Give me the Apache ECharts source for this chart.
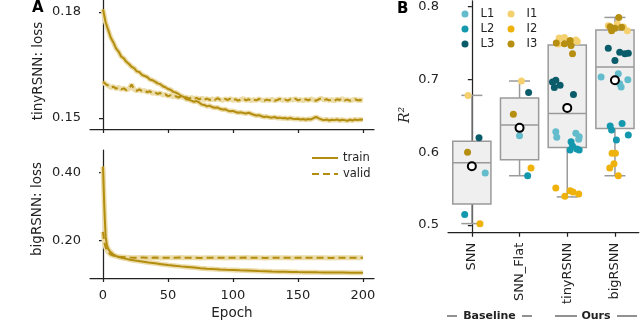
<!DOCTYPE html>
<html lang="en">
<head>
<meta charset="UTF-8">
<title>RSNN loss / R2</title>
<style>
    html, body { margin: 0; padding: 0; background: #fff; }
    #main { width: 640px; height: 322px; }
</style>
<script src="https://cdn.jsdelivr.net/npm/echarts@6/dist/echarts.min.js"></script>
</head>
<body>
<div id="main"></div>
<script>
    // ---------- panel A : loss curves ----------
    var epochsTiny = [0,2,4,6,8,10,12,14,16,18, 20,22,24,26,28,30,32,34,36,38,
        40,42,44,46,48,50,52,54,56,58, 60,62,64,66,68,70,72,74,76,78,
        80,82,84,86,88,90,92,94,96,98, 100,102,104,106,108,110,112,114,116,118,
        120,122,124,126,128,130,132,134,136,138, 140,142,144,146,148,150,152,154,156,158,
        160,162,164,166,168,170,172,174,176,178, 180,182,184,186,188,190,192,194,196,198, 200];
    var tinyTrain = [
        0.1808,0.1771,0.1749,0.1727,0.1714,0.1697,0.1688,0.1674,0.1669,0.1659,
        0.1653,0.1645,0.1641,0.1632,0.1630,0.1622,0.1619,0.1616,0.1609,0.1607,
        0.1603,0.1598,0.1596,0.1590,0.1587,0.1582,0.1580,0.1574,0.1572,0.1568,
        0.1563,0.1560,0.1553,0.1552,0.1549,0.1546,0.1548,0.1544,0.1538,0.1537,
        0.1533,0.1535,0.1531,0.1529,0.1530,0.1526,0.1524,0.1525,0.1521,0.1519,
        0.1520,0.1517,0.1515,0.1516,0.1514,0.1513,0.1515,0.1512,0.1509,0.1507,
        0.1508,0.1505,0.1503,0.1504,0.1502,0.1501,0.1503,0.1500,0.1501,0.1499,
        0.1500,0.1498,0.1500,0.1498,0.1497,0.1498,0.1496,0.1497,0.1495,0.1497,
        0.1496,0.1500,0.1503,0.1499,0.1496,0.1494,0.1496,0.1493,0.1495,0.1494,
        0.1496,0.1493,0.1495,0.1494,0.1492,0.1495,0.1493,0.1496,0.1494,0.1496,
        0.1495];
    var tinyValid = [
        0.1603,0.1596,0.1592,0.1586,0.1589,0.1583,0.1587,0.1581,0.1584,0.1579,
        0.1583,0.1595,0.1580,0.1577,0.1581,0.1576,0.1578,0.1573,0.1576,0.1570,
        0.1572,0.1568,0.1571,0.1565,0.1567,0.1562,0.1564,0.1560,0.1562,0.1558,
        0.1561,0.1557,0.1559,0.1555,0.1558,0.1554,0.1557,0.1553,0.1556,0.1552,
        0.1555,0.1551,0.1554,0.1551,0.1556,0.1552,0.1550,0.1554,0.1551,0.1555,
        0.1550,0.1553,0.1549,0.1552,0.1555,0.1550,0.1553,0.1549,0.1552,0.1550,
        0.1554,0.1551,0.1549,0.1552,0.1550,0.1553,0.1549,0.1551,0.1554,0.1550,
        0.1552,0.1549,0.1553,0.1551,0.1555,0.1550,0.1552,0.1549,0.1553,0.1550,
        0.1554,0.1551,0.1549,0.1553,0.1556,0.1551,0.1553,0.1550,0.1552,0.1549,
        0.1553,0.1551,0.1555,0.1550,0.1552,0.1549,0.1551,0.1553,0.1550,0.1551,
        0.1550];

    var epochsBig = [0,1,2,3,4,5,6,8,10,12,15,18,21,25,30,35,40,45,50,55,60,65,70,75,80,
        85,90,95,100,105,110,115,120,125,130,135,140,145,150,155,160,165,170,175,180,185,190,195,200];
    var bigTrain = [0.418,0.300,0.212,0.186,0.176,0.170,0.166,0.159,0.155,0.152,
        0.149,0.1465,0.144,0.1415,0.139,0.136,0.1335,0.131,0.1285,0.1265,
        0.1245,0.1228,0.121,0.1192,0.1178,0.1165,0.1153,0.1144,0.1136,0.1128,
        0.1121,0.1114,0.1107,0.1101,0.1095,0.1090,0.1086,0.1082,0.1078,0.1075,
        0.1072,0.1069,0.1067,0.1065,0.1063,0.1062,0.1061,0.1060,0.1059];
    var bigValid = [0.226,0.196,0.181,0.172,0.166,0.162,0.159,0.156,0.1545,0.1530,
        0.1522,0.1512,0.1505,0.1498,0.1506,0.1497,0.1503,0.1494,0.1501,0.1496,
        0.1504,0.1495,0.1500,0.1493,0.1502,0.1497,0.1499,0.1494,0.1501,0.1496,
        0.1503,0.1495,0.1499,0.1493,0.1500,0.1497,0.1502,0.1494,0.1499,0.1496,
        0.1501,0.1495,0.1498,0.1493,0.1500,0.1496,0.1499,0.1495,0.1497];

    var epochTicks = [0, 50, 100, 150, 200];
    var tinyTicks = [0.15, 0.18];
    var bigTicks = [0.20, 0.40];

    // ---------- panel B : R^2 per model ----------
    var models = ['SNN', 'SNN_Flat', 'tinyRSNN', 'bigRSNN'];
    var r2Ticks = [0.5, 0.6, 0.7, 0.8];
    // [min, q1, median, q3, max]
    var boxStats = [
        [0.502, 0.529, 0.5855, 0.615, 0.678],
        [0.5677, 0.5895, 0.6375, 0.6745, 0.6977],
        [0.5386, 0.6065, 0.6532, 0.7473, 0.7555],
        [0.5677, 0.6325, 0.7168, 0.7678, 0.785]
    ];
    var means = [0.5808, 0.6334, 0.6608, 0.6988];
    // points: [model index + jitter, R2]
    var ptsL1 = [[0.28,0.5714],[1.00,0.6227],[1.76,0.628],[1.78,0.6205],[2.18,0.626],[2.25,0.6213],[2.24,0.6177],
        [2.71,0.7031],[3.07,0.7078],[3.27,0.6996],[3.10,0.6941],[3.13,0.6895]];
    var ptsL2 = [[-0.15,0.5145],[1.17,0.5677],[2.08,0.6145],[2.11,0.6086],[2.06,0.603],[2.20,0.6045],[2.25,0.603],
        [2.90,0.6359],[2.93,0.6304],[3.15,0.6395],[3.28,0.6236],[3.03,0.6168]];
    var ptsL3 = [[0.15,0.620],[1.19,0.6819],[1.69,0.6963],[1.76,0.6986],[1.73,0.6887],[1.85,0.6918],[2.13,0.6791],
        [2.86,0.7427],[3.10,0.7373],[3.21,0.735],[3.28,0.7359],[3.00,0.7259]];
    var ptsI1 = [[-0.08,0.678],[1.04,0.6977],[1.83,0.7568],[1.94,0.7576],[2.18,0.754],[2.21,0.752],[1.81,0.7486],
        [2.86,0.7737],[3.05,0.776],[3.26,0.7668],[2.95,0.7700],[3.18,0.7720]];
    var ptsI2 = [[0.17,0.5018],[1.24,0.5782],[1.76,0.5509],[1.95,0.5394],[2.06,0.5472],[2.12,0.5455],[2.24,0.5427],
        [2.94,0.5986],[3.01,0.5986],[2.98,0.584],[2.89,0.5782],[3.07,0.5677]];
    var ptsI3 = [[-0.09,0.600],[0.87,0.6522],[1.77,0.750],[1.94,0.749],[2.06,0.7532],[2.08,0.7464],[2.11,0.735],
        [3.08,0.785],[2.90,0.7723],[2.93,0.7668],[3.14,0.7714],[3.00,0.7700]];

    var gold = '#b38d0f';
    var band = '#ecdcaa';
    var ink = '#222';
    var font = 'DejaVu Sans';

    function zip(xs, ys) {
        return xs.map(function (x, i) { return [x, ys[i]]; });
    }

    function valueAxis(grid, min, max, ticks, fmt, showLabel, margin) {
        return {
            type: 'value', gridIndex: grid, min: min, max: max,
            axisLine: {show: true, lineStyle: {color: ink, width: 1.25}},
            axisTick: {show: true, length: 4, lineStyle: {color: ink, width: 1.25}, customValues: ticks},
            axisLabel: {show: showLabel, customValues: ticks, formatter: fmt, color: ink,
                fontFamily: font, fontSize: 13, margin: margin},
            splitLine: {show: false}
        };
    }

    function lineSeries(name, x, y, data, dashed, width, color, z) {
        return {
            type: 'line', name: name, xAxisIndex: x, yAxisIndex: y,
            data: data, symbol: 'none', silent: true, z: z,
            lineStyle: {color: color, width: width, type: dashed ? [7, 4] : 'solid'},
            itemStyle: {color: color}
        };
    }

    function renderBox(params, api) {
        var i = api.value(0);
        var unit = api.size([1, 0])[0];
        var half = unit * 0.4, cap = unit * 0.22;
        var pMin = api.coord([i, api.value(1)]);
        var pQ1 = api.coord([i, api.value(2)]);
        var pMed = api.coord([i, api.value(3)]);
        var pQ3 = api.coord([i, api.value(4)]);
        var pMax = api.coord([i, api.value(5)]);
        var cx = pMed[0];
        var st = {stroke: '#9a9a9a', lineWidth: 1.5};
        return {
            type: 'group',
            children: [
                {type: 'line', shape: {x1: cx, y1: pMin[1], x2: cx, y2: pQ1[1]}, style: st},
                {type: 'line', shape: {x1: cx, y1: pQ3[1], x2: cx, y2: pMax[1]}, style: st},
                {type: 'line', shape: {x1: cx - cap, y1: pMin[1], x2: cx + cap, y2: pMin[1]}, style: st},
                {type: 'line', shape: {x1: cx - cap, y1: pMax[1], x2: cx + cap, y2: pMax[1]}, style: st},
                {type: 'rect', shape: {x: cx - half, y: pQ3[1], width: 2 * half, height: pQ1[1] - pQ3[1]},
                    style: {fill: '#efefef', stroke: '#9a9a9a', lineWidth: 1.5}},
                {type: 'line', shape: {x1: cx - half, y1: pMed[1], x2: cx + half, y2: pMed[1]}, style: st}
            ]
        };
    }

    function dots(name, pts, color) {
        return {
            type: 'scatter', name: name, xAxisIndex: 2, yAxisIndex: 2,
            data: pts, symbolSize: 7, z: 5,
            itemStyle: {color: color, opacity: 1}
        };
    }

    var chart = echarts.init(document.getElementById('main'), null, {renderer: 'canvas'});

    var dotLegend = {
        orient: 'vertical', top: 8, padding: 0,
        icon: 'circle', itemWidth: 7, itemHeight: 7, itemGap: 3,
        textStyle: {fontSize: 11.5, color: ink, fontFamily: font, padding: [0, 0, 0, 7]}
    };

    var option = {
        animation: false,
        backgroundColor: '#fff',
        textStyle: {fontFamily: font},
        grid: [
            {left: 90, top: 0, width: 284, height: 129},
            {left: 90, top: 150, width: 284, height: 128},
            {left: 448, top: 0, width: 190.8, height: 232.7}
        ],
        xAxis: [
            valueAxis(0, -10, 208.5, epochTicks, function (v) { return String(v); }, false, 8),
            valueAxis(1, -10, 208.5, epochTicks, function (v) { return String(v); }, true, 11),
            valueAxis(2, -0.5, 3.5, [0, 1, 2, 3], function (v) { return models[Math.round(v)]; }, true, 10)
        ],
        yAxis: [
            valueAxis(0, 0.14689, 0.18340, tinyTicks, function (v) { return v.toFixed(2); }, true, 9),
            valueAxis(1, 0.0903, 0.4668, bigTicks, function (v) { return v.toFixed(2); }, true, 9),
            valueAxis(2, 0.4895, 0.8078, r2Ticks, function (v) { return v.toFixed(1); }, true, 9)
        ],
        legend: [
            {data: ['train', 'valid'], orient: 'vertical', left: 311, top: 152, padding: 0,
                itemWidth: 26, itemHeight: 10, itemGap: 4,
                itemStyle: {opacity: 0},
                textStyle: {fontSize: 11.5, color: ink, fontFamily: font}},
            Object.assign({data: ['L1', 'L2', 'L3'], left: 461.5}, dotLegend),
            Object.assign({data: ['I1', 'I2', 'I3'], left: 507.5}, dotLegend)
        ],
        series: [
            // shaded spread under the curves
            lineSeries('', 0, 0, zip(epochsTiny, tinyValid), false, 5, band, 1),
            lineSeries('', 0, 0, zip(epochsTiny, tinyTrain), false, 5, band, 1),
            lineSeries('', 1, 1, zip(epochsBig, bigValid), false, 5, band, 1),
            lineSeries('', 1, 1, zip(epochsBig, bigTrain), false, 5, band, 1),
            lineSeries('train', 0, 0, zip(epochsTiny, tinyTrain), false, 2, gold, 3),
            lineSeries('valid', 0, 0, zip(epochsTiny, tinyValid), true, 2, gold, 3),
            lineSeries('train', 1, 1, zip(epochsBig, bigTrain), false, 2, gold, 3),
            lineSeries('valid', 1, 1, zip(epochsBig, bigValid), true, 2, gold, 3),
            {
                type: 'custom', xAxisIndex: 2, yAxisIndex: 2, silent: true, z: 2,
                data: boxStats.map(function (s, i) { return [i].concat(s); }),
                encode: {x: 0, y: [1, 2, 3, 4, 5]},
                renderItem: renderBox
            },
            dots('L1', ptsL1, '#62bccb'),
            dots('L2', ptsL2, '#1498ad'),
            dots('L3', ptsL3, '#0b5c6a'),
            dots('I1', ptsI1, '#f4d06f'),
            dots('I2', ptsI2, '#efb20a'),
            dots('I3', ptsI3, '#b78f10'),
            {
                type: 'scatter', xAxisIndex: 2, yAxisIndex: 2, z: 6,
                data: means.map(function (m, i) { return [i, m]; }),
                symbolSize: 8,
                itemStyle: {color: '#fff', borderColor: '#000', borderWidth: 2, opacity: 1}
            }
        ],
        graphic: [
            {type: 'text', left: 32, top: 1, style: {text: 'A', font: 'bold 15px "DejaVu Sans"', fill: '#000'}},
            {type: 'text', left: 397, top: 2, style: {text: 'B', font: 'bold 15px "DejaVu Sans"', fill: '#000'}},
            {type: 'text', x: 38, y: 71, rotation: Math.PI / 2,
                style: {text: 'tinyRSNN: loss', font: '13.5px "DejaVu Sans"', fill: ink, align: 'center', verticalAlign: 'middle'}},
            {type: 'text', x: 37, y: 209, rotation: Math.PI / 2,
                style: {text: 'bigRSNN: loss', font: '13.5px "DejaVu Sans"', fill: ink, align: 'center', verticalAlign: 'middle'}},
            {type: 'text', x: 232, y: 313,
                style: {text: 'Epoch', font: '13.5px "DejaVu Sans"', fill: ink, align: 'center', verticalAlign: 'middle'}},
            {type: 'text', x: 405, y: 115, rotation: Math.PI / 2,
                style: {text: 'R²', font: 'italic 14px "DejaVu Serif"', fill: ink, align: 'center', verticalAlign: 'middle'}},
            {type: 'text', x: 489.5, y: 316,
                style: {text: 'Baseline', font: 'bold 11px "DejaVu Sans"', fill: ink, align: 'center', verticalAlign: 'middle'}},
            {type: 'line', shape: {x1: 447, y1: 316, x2: 457, y2: 316}, style: {stroke: ink, lineWidth: 1}},
            {type: 'line', shape: {x1: 522, y1: 316, x2: 532, y2: 316}, style: {stroke: ink, lineWidth: 1}},
            {type: 'text', x: 596, y: 316,
                style: {text: 'Ours', font: 'bold 11px "DejaVu Sans"', fill: ink, align: 'center', verticalAlign: 'middle'}},
            {type: 'line', shape: {x1: 555, y1: 316, x2: 577, y2: 316}, style: {stroke: ink, lineWidth: 1}},
            {type: 'line', shape: {x1: 617, y1: 316, x2: 637, y2: 316}, style: {stroke: ink, lineWidth: 1}}
        ]
    };

    // category names stand vertically under panel B
    option.xAxis[2].axisLabel.rotate = 90;

    chart.setOption(option);
</script>
</body>
</html>
